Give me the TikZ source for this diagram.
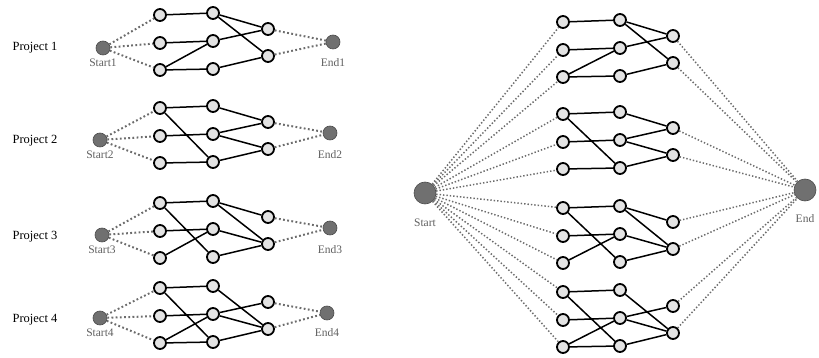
\documentclass[tikz,border=0pt]{standalone}
\usepackage{fontspec}
\setmainfont{Liberation Serif}
\begin{document}
\begin{tikzpicture}[x=1pt,y=-1pt,
  pn/.style={circle,draw=black,line width=1.8pt,fill=gray!22,minimum size=12pt,inner sep=0pt},
  sdot/.style={circle,fill=gray!75!black!90,draw=gray!60!black,line width=0.6pt,minimum size=14pt,inner sep=0pt},
  bigdot/.style={circle,fill=gray!75!black!90,draw=gray!60!black,line width=0.6pt,minimum size=22pt,inner sep=0pt},
  edge/.style={line width=1.5pt,black},
  dot/.style={gray!85!black,line width=2pt,dash pattern=on 1.8pt off 2.4pt},
  fdot/.style={gray!85!black,line width=1.5pt,dash pattern=on 1.4pt off 2pt},
  plab/.style={font=\fontsize{12.5}{14}\selectfont,black},
  slab/.style={font=\fontsize{11.5}{13}\selectfont,gray!75!black}]
\useasboundingbox (0,0) rectangle (819,358);
\newcommand\blk[5]{%
  \node[pn] (#1a1) at (#2,#3) {};
  \node[pn] (#1a2) at (#2,#3+28) {};
  \node[pn] (#1a3) at (#2,#3+55) {};
  \node[pn] (#1b1) at (#2+#4,#3-2) {};
  \node[pn] (#1b2) at (#2+#4,#3+26) {};
  \node[pn] (#1b3) at (#2+#4,#3+54) {};
  \node[pn] (#1c1) at (#2+#4+#5,#3+14) {};
  \node[pn] (#1c2) at (#2+#4+#5,#3+41) {};}
\newcommand\edgesA[1]{\draw[edge] (#1a1)--(#1b1) (#1b1)--(#1c1) (#1b1)--(#1c2) (#1a2)--(#1b2) (#1a3)--(#1b2) (#1a3)--(#1b3) (#1b2)--(#1c1) (#1b3)--(#1c2);}
\newcommand\edgesB[1]{\draw[edge] (#1a1)--(#1b1) (#1a1)--(#1b3) (#1a2)--(#1b2) (#1a3)--(#1b3) (#1b1)--(#1c1) (#1b2)--(#1c1) (#1b2)--(#1c2) (#1b3)--(#1c2);}
\newcommand\edgesC[1]{\draw[edge] (#1a1)--(#1b1) (#1a1)--(#1b3) (#1a2)--(#1b2) (#1a3)--(#1b2) (#1b1)--(#1c1) (#1b1)--(#1c2) (#1b2)--(#1c2) (#1b3)--(#1c2);}
\newcommand\edgesD[1]{\draw[edge] (#1a1)--(#1b1) (#1a1)--(#1b3) (#1a2)--(#1b2) (#1a3)--(#1b2) (#1a3)--(#1b3) (#1b1)--(#1c2) (#1b2)--(#1c1) (#1b2)--(#1c2) (#1b3)--(#1c2);}
% left blocks
\blk{p1}{160}{15}{53}{55}
\blk{p2}{160}{108}{53}{55}
\blk{p3}{160}{203}{53}{55}
\blk{p4}{160}{288}{53}{55}
% right blocks
\blk{q1}{563}{22}{57}{53}
\blk{q2}{563}{114}{57}{53}
\blk{q3}{563}{208}{57}{53}
\blk{q4}{563}{292}{57}{53}
\edgesA{p1}\edgesB{p2}\edgesC{p3}\edgesD{p4}
\edgesA{q1}\edgesB{q2}\edgesC{q3}\edgesD{q4}
% project labels
\node[plab] (l1) at (35,48) {Project 1};
\node[plab] (l2) at (35,141) {Project 2};
\node[plab] (l3) at (35,237) {Project 3};
\node[plab] (l4) at (35,320) {Project 4};
% left start/end
\node[sdot] (s1) at (103,48) {};
\node[sdot] (s2) at (100,140) {};
\node[sdot] (s3) at (102,235) {};
\node[sdot] (s4) at (100,318) {};
\node[sdot] (e1) at (333,42) {};
\node[sdot] (e2) at (330,133) {};
\node[sdot] (e3) at (330,228) {};
\node[sdot] (e4) at (327,313) {};
\node[slab] (ts1) at (103,63) {Start1};
\node[slab] (ts2) at (100,155) {Start2};
\node[slab] (ts3) at (102,250) {Start3};
\node[slab] (ts4) at (100,333) {Start4};
\node[slab] (te1) at (333,63) {End1};
\node[slab] (te2) at (330,155) {End2};
\node[slab] (te3) at (330,250) {End3};
\node[slab] (te4) at (327,333) {End4};
\foreach \i in {1,2,3,4}{
  \foreach \j in {1,2,3}{\draw[dot] (s\i) -- (p\i a\j);}
  \foreach \j in {1,2}{\draw[dot] (p\i c\j) -- (e\i);}
}
% right start/end
\node[bigdot] (S) at (425,193) {};
\node[bigdot] (E) at (805,190) {};
\node[slab] (tS) at (425,223) {Start};
\node[slab] (tE) at (805,219) {End};
\foreach \i in {1,2,3,4}{
  \foreach \j in {1,2,3}{\draw[fdot] (S) -- (q\i a\j);}
  \foreach \j in {1,2}{\draw[fdot] (q\i c\j) -- (E);}
}
\end{tikzpicture}
\end{document}
